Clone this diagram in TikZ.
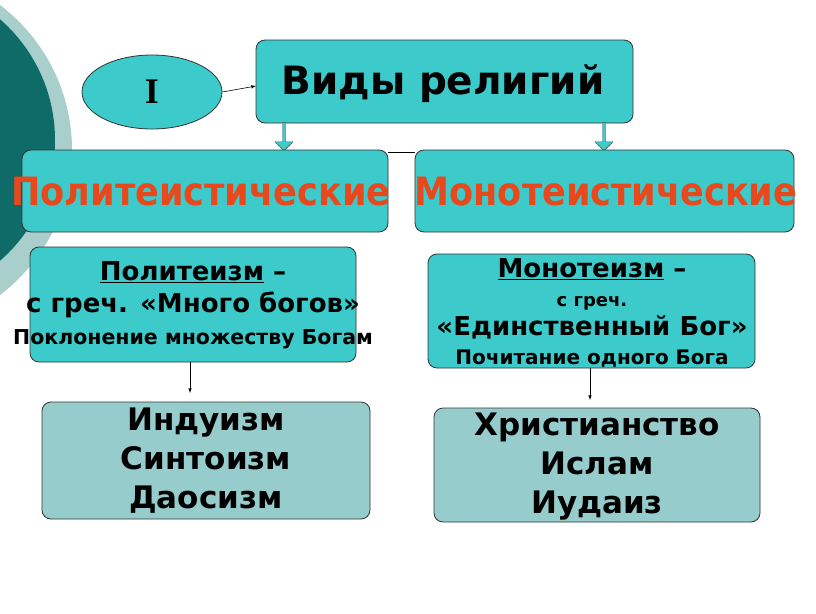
\documentclass[tikz,border=0pt]{standalone}
\usepackage{fontspec}
\setmainfont{DejaVu Sans}
\newfontfamily\condf{DejaVu Sans Condensed}
\newfontfamily\serf{Liberation Serif}
\usetikzlibrary{shapes.geometric,shapes.arrows}
\definecolor{tealbox}{HTML}{3CCACA}
\definecolor{palebox}{HTML}{96CCCC}
\definecolor{darkteal}{HTML}{0E6B68}
\definecolor{lightring}{HTML}{A9CFCD}
\definecolor{redtxt}{HTML}{E8481C}
\begin{document}
\begin{tikzpicture}[x=1pt,y=-1pt,
  box/.style={draw=black!80,line width=0.8pt,fill=tealbox,rounded corners=9pt},
  pbox/.style={draw=black!80,line width=0.8pt,fill=palebox,rounded corners=9pt},
  txt/.style={font=\bfseries,align=center,inner sep=0pt},
  barr/.style={draw=black!70,fill=tealbox,single arrow,shape border rotate=270,minimum height=28pt,minimum width=18pt,single arrow head extend=1pt,single arrow head indent=0pt,inner sep=0pt}]
\useasboundingbox (0,0) rectangle (816,613);
\fill[white] (0,0) rectangle (816,613);
\begin{scope}
\clip (0,0) rectangle (816,613);
\fill[lightring] (-110,150) circle (182);
\fill[darkteal] (-105,140) circle (160);
\end{scope}
% top
\node[draw=black!80,line width=0.8pt,fill=tealbox,ellipse,minimum width=140pt,minimum height=74pt] (i) at (152,92) {};
\node[txt,font=\serf\bfseries\fontsize{36}{36}\selectfont] at (i) {I};
\draw[box] (256,40) rectangle (633,123);
\node[txt,font=\bfseries\fontsize{39}{39}\selectfont] (main) at (443,84) {Виды религий};
\coordinate (mainl) at (256,86);
\draw[-latex,line width=0.6pt] (i.east) -- (mainl);
% arrows
\node[barr] (a1) at (284,136) {};
\node[barr] (a2) at (604,136) {};
% second row
\draw[box] (22,150) rectangle (388,232);
\draw[box] (415,150) rectangle (794,232);
\coordinate (pr) at (388,152);
\coordinate (ml) at (415,152);
\draw[line width=0.8pt] (pr) -- (ml);
\node[txt,text=redtxt,font=\condf\bfseries\fontsize{39}{39}\selectfont] (poly) at (201,192) {Политеистические};
\node[txt,text=redtxt,font=\condf\bfseries\fontsize{39}{39}\selectfont] (mono) at (606,192) {Монотеистические};
% third row
\draw[box] (30,247) rectangle (356,362);
\node[txt,font=\bfseries\fontsize{26}{32}\selectfont] (pt) at (193,305) {\underline{Политеизм} –\\ с греч. «Много богов»\\ {\fontsize{20.5}{25}\selectfont Поклонение множеству Богам}};
\draw[box] (428,254) rectangle (755,368);
\node[txt,font=\bfseries\fontsize{26}{29}\selectfont] (mt) at (592,313) {\underline{Монотеизм} –\\ {\fontsize{18}{24}\selectfont с греч.}\\ «Единственный Бог»\\ {\fontsize{20}{26}\selectfont Почитание одного Бога}};
\coordinate (pb) at (190,362);
\coordinate (mb) at (590,368);
% bottom row
\draw[pbox] (42,402) rectangle (370,519);
\node[txt,font=\bfseries\fontsize{31}{39}\selectfont] (l) at (206,461) {Индуизм\\ Синтоизм\\ Даосизм};
\draw[pbox] (434,408) rectangle (760,522);
\node[txt,font=\bfseries\fontsize{31}{39}\selectfont] (r) at (597,467) {Христианство\\ Ислам\\ Иудаиз};
\coordinate (lt) at (190,393);
\coordinate (rt) at (590,400);
\draw[-latex,line width=0.6pt] (pb) -- (lt);
\draw[-latex,line width=0.6pt] (mb) -- (rt);
\end{tikzpicture}
\end{document}
